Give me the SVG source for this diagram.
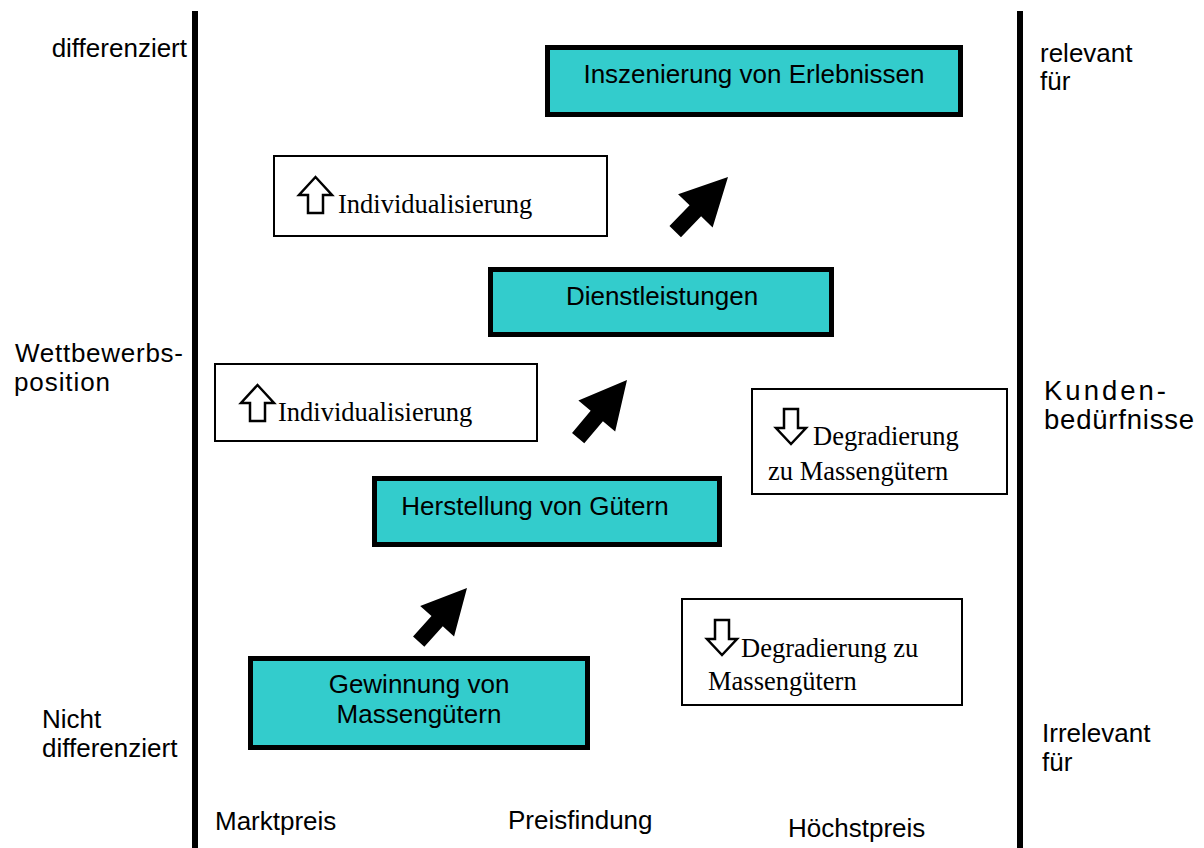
<svg xmlns="http://www.w3.org/2000/svg" xmlns:xlink="http://www.w3.org/1999/xlink" width="1204" height="848" viewBox="0 0 1204 848">
<style>
.lbl{font-family:"Liberation Sans",Arial,sans-serif;font-size:26px;fill:#000}
.big{font-size:27.5px}
.box{fill:#33CCCC;stroke:#000;stroke-width:5}
.note{fill:#fff;stroke:#000;stroke-width:2}
.ser{font-family:"Liberation Serif","Times New Roman",serif;font-size:26.5px;fill:#000}
.ico{fill:#fff;stroke:#000;stroke-width:2.5;stroke-linejoin:miter}
.axis{fill:#000}
</style>
<defs>
<path id="blk" d="M0,0 L-47,-24 L-47,-8 L-76,-8 L-76,8 L-47,8 L-47,24 Z" fill="#000"/>
<path id="up" class="ico" d="M16.5,0 L33,18 L24,18 L24,36 L9,36 L9,18 L0,18 Z"/>
<path id="down" class="ico" d="M9,0 L23,0 L23,19 L31,19 L16,35 L1,19 L9,19 Z"/>
</defs>
<rect width="1204" height="848" fill="#fff"/>
<g id="axes">
<rect class="axis" x="192" y="11" width="6" height="837"/>
<rect class="axis" x="1017" y="11" width="6" height="837"/>
</g>
<g id="labels">
<text class="lbl" x="187" y="57" text-anchor="end">differenziert</text>
<text class="lbl" x="15" y="362" textLength="168" lengthAdjust="spacing">Wettbewerbs-</text>
<text class="lbl" x="14" y="391" textLength="96" lengthAdjust="spacing">position</text>
<text class="lbl" x="42" y="728">Nicht</text>
<text class="lbl" x="42" y="757">differenziert</text>
<text class="lbl" x="1040" y="62">relevant</text>
<text class="lbl" x="1040" y="90">für</text>
<text class="lbl big" x="1044" y="400" textLength="122" lengthAdjust="spacing">Kunden-</text>
<text class="lbl big" x="1044" y="429" textLength="150" lengthAdjust="spacing">bedürfnisse</text>
<text class="lbl" x="1042" y="742">Irrelevant</text>
<text class="lbl" x="1042" y="771">für</text>
<text class="lbl" x="215" y="830">Marktpreis</text>
<text class="lbl" x="508" y="829">Preisfindung</text>
<text class="lbl" x="788" y="837">Höchstpreis</text>
</g>
<g id="node-inszenierung">
<rect class="box" x="547.5" y="47.5" width="413" height="67"/>
<text class="lbl" x="754" y="83" text-anchor="middle">Inszenierung von Erlebnissen</text>
</g>
<g id="node-dienstleistungen">
<rect class="box" x="490.5" y="269.5" width="341" height="65"/>
<text class="lbl" x="662" y="305" text-anchor="middle">Dienstleistungen</text>
</g>
<g id="node-herstellung">
<rect class="box" x="374.5" y="478.5" width="345" height="66"/>
<text class="lbl" x="535" y="515" text-anchor="middle">Herstellung von Gütern</text>
</g>
<g id="node-gewinnung">
<rect class="box" x="250.5" y="658.5" width="337" height="89"/>
<text class="lbl" x="419" y="693" text-anchor="middle">Gewinnung von</text>
<text class="lbl" x="419" y="723" text-anchor="middle">Massengütern</text>
</g>
<g id="note-individualisierung-1">
<rect class="note" x="274" y="156" width="333" height="80"/>
<use xlink:href="#up" href="#up" transform="translate(299,177)"/>
<text class="ser" x="338" y="213">Individualisierung</text>
</g>
<g id="note-individualisierung-2">
<rect class="note" x="215" y="364" width="322" height="77"/>
<use xlink:href="#up" href="#up" transform="translate(241,385)"/>
<text class="ser" x="278" y="421">Individualisierung</text>
</g>
<g id="note-degradierung-1">
<rect class="note" x="752" y="389" width="255" height="105"/>
<use xlink:href="#down" href="#down" transform="translate(775,409)"/>
<text class="ser" x="813" y="445">Degradierung</text>
<text class="ser" x="768" y="480">zu Massengütern</text>
</g>
<g id="note-degradierung-2">
<rect class="note" x="682" y="599" width="280" height="106"/>
<use xlink:href="#down" href="#down" transform="translate(706,620)"/>
<text class="ser" x="741" y="657">Degradierung zu</text>
<text class="ser" x="708" y="690">Massengütern</text>
</g>
<g id="connectors">
<use xlink:href="#blk" href="#blk" transform="translate(728,177) rotate(-46)"/>
<use xlink:href="#blk" href="#blk" transform="translate(627,380) rotate(-50)"/>
<use xlink:href="#blk" href="#blk" transform="translate(467,588) rotate(-48) scale(0.95)"/>
</g>
</svg>
